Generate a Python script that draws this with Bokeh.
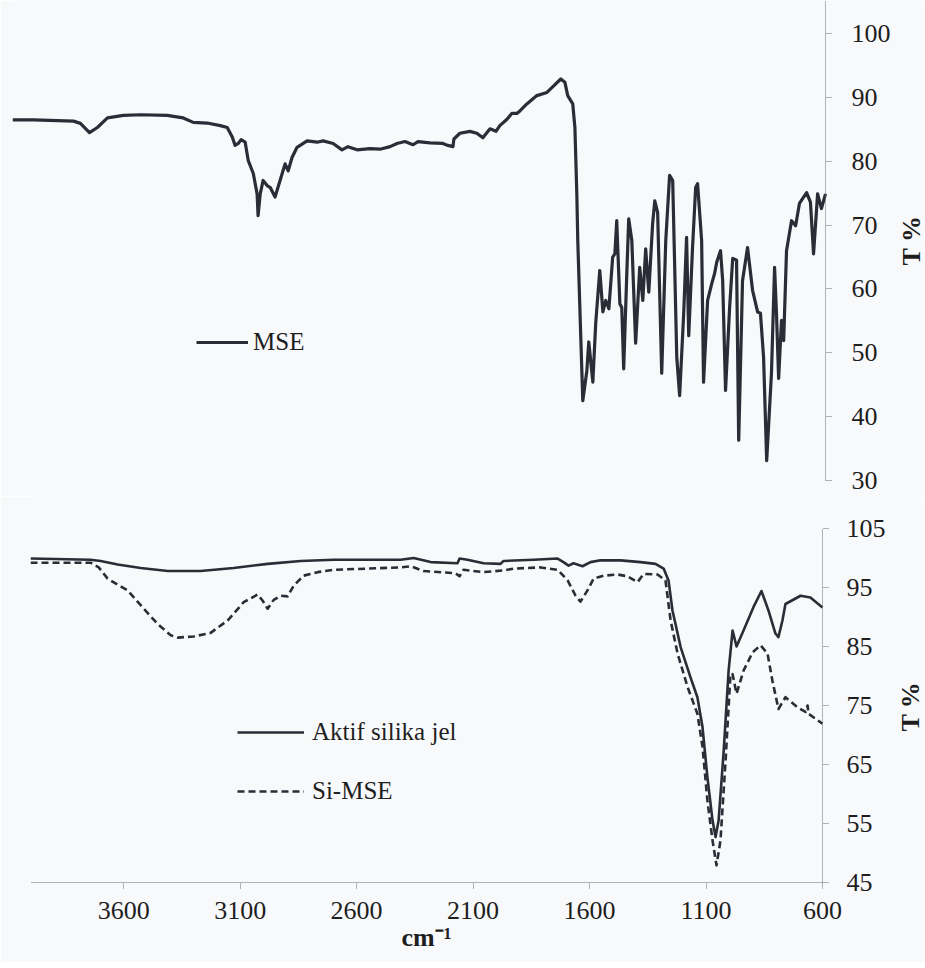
from bokeh.plotting import figure
from bokeh.models import Range1d, FixedTicker, Legend, LegendItem, Label
from bokeh.embed import file_html
from bokeh.resources import INLINE

# ---------------- data ----------------
mse_wn = [4000, 3912, 3745, 3716, 3678, 3645, 3603, 3536, 3465, 3353, 3286, 3244, 3186, 3131, 3102,
          3081, 3069, 3056, 3044, 3027, 3014, 2993, 2977, 2973, 2964, 2952, 2935, 2922, 2902, 2881,
          2860, 2847, 2831, 2810, 2768, 2726, 2701, 2659, 2622, 2597, 2559, 2505, 2463, 2421, 2392,
          2359, 2325, 2304, 2254, 2200, 2179, 2158, 2154, 2129, 2087, 2058, 2033, 2003, 1978, 1962,
          1932, 1912, 1891, 1878, 1849, 1807, 1765, 1740, 1707, 1690, 1678, 1657, 1648, 1640, 1636,
          1623, 1615, 1598, 1590, 1573, 1561, 1544, 1531, 1519, 1506, 1490, 1481, 1473, 1460, 1452,
          1444, 1431, 1423, 1410, 1394, 1377, 1364, 1352, 1339, 1323, 1314, 1302, 1285, 1268, 1252,
          1239, 1222, 1210, 1193, 1181, 1172, 1156, 1143, 1135, 1118, 1110, 1093, 1076, 1064, 1055,
          1039, 1030, 1018, 1001, 988, 972, 963, 947, 926, 905, 884, 872, 859, 846, 826,
          813, 805, 796, 784, 775, 763, 742, 725, 709, 679, 663, 650, 633, 617, 600]
mse_t = [86.5, 86.5, 86.3, 85.95, 84.5, 85.3, 86.8, 87.2, 87.3, 87.2, 86.8, 86.1, 86.0, 85.6, 85.3,
         83.8, 82.5, 82.8, 83.4, 83.0, 80.1, 78.1, 74.9, 71.5, 74.9, 77.0, 76.2, 75.9, 74.4, 77.0,
         79.6, 78.5, 80.6, 82.2, 83.2, 83.0, 83.2, 82.8, 81.8, 82.3, 81.8, 82.0, 81.9, 82.3, 82.8,
         83.1, 82.6, 83.1, 82.9, 82.8, 82.5, 82.3, 83.5, 84.4, 84.7, 84.4, 83.7, 85.1, 84.7, 85.6,
         86.6, 87.5, 87.5, 87.9, 89.0, 90.3, 90.8, 91.7, 92.9, 92.4, 90.3, 89.0, 85.3, 74.9, 67.6,
         51.9, 42.5, 47.2, 51.7, 45.4, 54.6, 62.9, 56.4, 58.2, 56.9, 65.0, 65.5, 70.7, 57.7, 57.1,
         47.5, 62.4, 71.0, 67.6, 51.5, 63.4, 58.2, 66.3, 59.5, 70.2, 73.8, 72.0, 46.8, 67.6, 77.8,
         77.0, 49.3, 43.3, 56.2, 68.1, 52.7, 66.5, 75.9, 76.5, 67.6, 45.4, 58.2, 60.8, 62.4, 64.2,
         66.0, 61.3, 44.1, 57.1, 64.8, 64.5, 36.3, 61.3, 66.5, 59.8, 56.4, 56.2, 49.3, 33.1, 46.8,
         63.4, 56.2, 46.0, 55.1, 51.9, 66.0, 70.7, 69.9, 73.4, 75.1, 73.6, 65.5, 74.9, 72.6, 74.9]

gel_wn = [4000, 3742, 3699, 3626, 3527, 3411, 3270, 3128, 2982, 2840, 2699, 2553, 2411, 2355, 2282,
          2167, 2158, 2124, 2055, 1982, 1969, 1840, 1737, 1712, 1690, 1669, 1630, 1596, 1553, 1467,
          1381, 1317, 1282, 1261, 1244, 1209, 1167, 1137, 1115, 1094, 1072, 1059, 1046, 1025, 1003,
          986, 969, 939, 896, 862, 832, 802, 789, 772, 759, 694, 652, 600]
gel_t = [99.9, 99.7, 99.5, 98.9, 98.3, 97.8, 97.8, 98.3, 99.0, 99.5, 99.7, 99.7, 99.7, 100.0, 99.3,
         99.1, 99.9, 99.7, 99.1, 99.0, 99.5, 99.7, 99.9, 99.3, 98.7, 99.1, 98.6, 99.3, 99.6, 99.6,
         99.3, 99.0, 98.2, 96.2, 91.1, 84.9, 79.8, 76.4, 71.3, 62.8, 55.5, 52.7, 55.5, 66.8, 80.9,
         87.7, 85.0, 87.7, 91.7, 94.4, 91.1, 87.2, 86.6, 89.4, 92.2, 93.6, 93.3, 91.6]

simse_wn = [4000, 3742, 3707, 3669, 3626, 3583, 3527, 3454, 3398, 3368, 3300, 3227, 3154, 3085, 3025,
            3004, 2982, 2956, 2926, 2896, 2870, 2828, 2767, 2699, 2553, 2411, 2368, 2313, 2175, 2158,
            2141, 2055, 1969, 1926, 1810, 1737, 1694, 1660, 1639, 1609, 1583, 1540, 1480, 1437, 1394,
            1368, 1308, 1274, 1252, 1222, 1179, 1137, 1115, 1094, 1072, 1055, 1038, 1016, 995, 986,
            969, 939, 900, 866, 836, 815, 789, 759, 707, 673, 664, 660, 600]
simse_t = [99.2, 99.2, 98.4, 96.5, 95.5, 94.5, 92.0, 88.8, 86.9, 86.5, 86.7, 87.3, 89.4, 92.5, 93.8,
           92.8, 91.4, 92.9, 93.6, 93.5, 95.3, 97.0, 97.6, 98.0, 98.2, 98.4, 98.6, 97.8, 97.4, 96.9,
           98.0, 97.6, 97.9, 98.2, 98.4, 98.0, 96.2, 93.6, 92.6, 94.5, 96.5, 97.0, 97.2, 96.9, 95.9,
           97.3, 97.2, 96.2, 89.4, 83.8, 78.1, 73.6, 68.0, 58.9, 52.1, 47.9, 52.1, 65.7, 80.4, 80.3,
           77.0, 80.9, 84.0, 85.2, 83.8, 79.2, 74.4, 76.4, 74.7, 73.9, 75.0, 73.6, 71.9]

top_y_ticks = [30, 40, 50, 60, 70, 80, 90, 100]
bottom_y_ticks = [45, 55, 65, 75, 85, 95, 105]
x_ticks = [600, 1100, 1600, 2100, 2600, 3100, 3600]

labels_top = ["MSE"]
labels_bottom = ["Aktif silika jel", "Si-MSE"]
y_title = "T %"
x_title = "cm\u207b\u00b9"

# ---------------- style ----------------
BG = "#f8f9fb"
LINE = "#2b2c36"
AXIS = "#6a6a6a"
TXT = "#1e1e1e"
FONT = "Liberation Serif"
W = 925
X_MIN, X_MAX = 600, 4000
TOP_Y = (30, 105.2)
BOT_Y = (45, 105)


def style_axis(ax, standoff):
    ax.axis_line_color = AXIS
    ax.axis_line_dash = "1 1"
    ax.axis_line_width = 1
    ax.major_tick_line_color = AXIS
    ax.major_tick_line_dash = "1 1"
    ax.major_tick_out = 6
    ax.major_tick_in = 0
    ax.minor_tick_line_color = None
    ax.major_label_text_font = FONT
    ax.major_label_text_font_size = "26px"
    ax.major_label_text_color = TXT
    ax.major_label_standoff = standoff


def title_label(x, y, text, angle):
    return Label(x=x, y=y, text=text, angle=angle,
                 text_align="center", text_baseline="middle",
                 text_font=FONT, text_font_size="26px", text_font_style="bold",
                 text_color=TXT)


# ---------------- top chart ----------------
# The frame covers the whole canvas; axes are pinned (fixed_location) at the
# data edges so tick labels and titles fall inside the frame.
top = figure(width=W, height=496, x_range=Range1d(X_MAX, 181.8), y_range=Range1d(27.49, TOP_Y[1]),
             x_axis_location=None, y_axis_location="right",
             output_backend="svg", toolbar_location=None,
             min_border_left=12, min_border_right=0, min_border_top=0, min_border_bottom=0,
             background_fill_color=BG, border_fill_color=BG, outline_line_color=None)
top.grid.visible = False
top.yaxis.ticker = FixedTicker(ticks=top_y_ticks)
top.yaxis.fixed_location = X_MIN
top.yaxis.bounds = TOP_Y
style_axis(top.yaxis[0], 20)

r_mse = top.line(mse_wn, mse_t, line_width=3.2, line_color=LINE, line_join="round")
leg_top = Legend(items=[LegendItem(label=labels_top[0], renderers=[r_mse])],
                 location=(184, 140), padding=0, margin=0, spacing=0,
                 glyph_width=52, glyph_height=24, label_height=24, label_standoff=5,
                 label_text_font=FONT, label_text_font_size="25px", label_text_color=TXT,
                 border_line_color=None, background_fill_alpha=0)
top.add_layout(leg_top)
top.add_layout(title_label(240, 67.6, y_title, 1.5707963))

# ---------------- bottom chart ----------------
bot = figure(width=W, height=466, x_range=Range1d(X_MAX, 157.8), y_range=Range1d(31.44, 110.42),
             x_axis_location="below", y_axis_location="right",
             output_backend="svg", toolbar_location=None,
             min_border_left=30, min_border_right=0, min_border_top=0, min_border_bottom=0,
             background_fill_color=BG, border_fill_color=BG, outline_line_color=None)
bot.grid.visible = False
bot.yaxis.ticker = FixedTicker(ticks=bottom_y_ticks)
bot.yaxis.fixed_location = X_MIN
bot.yaxis.bounds = BOT_Y
bot.xaxis.ticker = FixedTicker(ticks=x_ticks)
bot.xaxis.fixed_location = BOT_Y[0]
bot.xaxis.bounds = (X_MIN, X_MAX)
style_axis(bot.yaxis[0], 18)
style_axis(bot.xaxis[0], 14)

r_gel = bot.line(gel_wn, gel_t, line_width=2.6, line_color=LINE, line_join="round")
r_si = bot.line(simse_wn, simse_t, line_width=2.6, line_color=LINE, line_dash="7 4", line_join="round")
leg_bot = Legend(items=[LegendItem(label=labels_bottom[0], renderers=[r_gel]),
                        LegendItem(label=labels_bottom[1], renderers=[r_si])],
                 location=(207, 157), padding=0, margin=0, spacing=31,
                 glyph_width=67, glyph_height=24, label_height=24, label_standoff=8,
                 label_text_font=FONT, label_text_font_size="25px", label_text_color=TXT,
                 border_line_color=None, background_fill_alpha=0)
bot.add_layout(leg_bot)
bot.add_layout(title_label(222, 74.8, y_title, 1.5707963))
bot.add_layout(title_label(2300, 35.6, x_title, 0))

p = [top, bot]
open("out.html", "w").write(file_html(p, INLINE))
